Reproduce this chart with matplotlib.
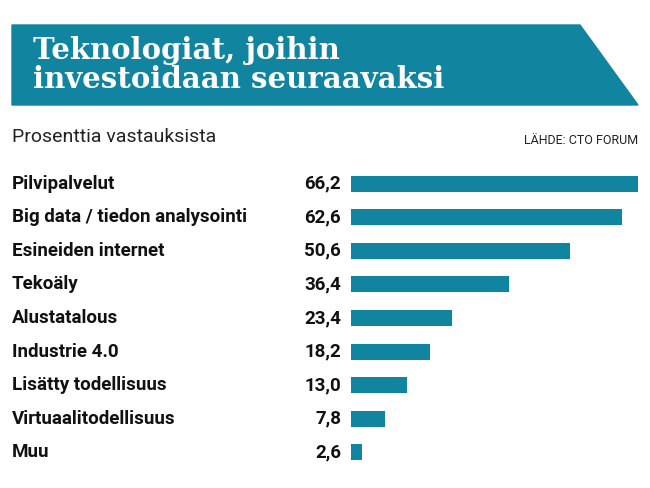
import matplotlib
matplotlib.use("Agg")
import matplotlib.pyplot as plt
from matplotlib.patches import Polygon
from matplotlib.transforms import blended_transform_factory

categories = ["Pilvipalvelut", "Big data / tiedon analysointi", "Esineiden internet", "Tekoäly",
              "Alustatalous", "Industrie 4.0", "Lisätty todellisuus", "Virtuaalitodellisuus", "Muu"]
values = [66.2, 62.6, 50.6, 36.4, 23.4, 18.2, 13.0, 7.8, 2.6]
value_labels = ["66,2", "62,6", "50,6", "36,4", "23,4", "18,2", "13,0", "7,8", "2,6"]

teal = "#11849f"
W, H = 650, 488
fig = plt.figure(figsize=(6.5, 4.88), dpi=100)

# banner
ban = Polygon([(12/W, 1-25/H), (580/W, 1-25/H), (638/W, 1-105/H), (12/W, 1-105/H)],
              closed=True, transform=fig.transFigure, color=teal)
fig.patches.append(ban)
fig.text(33/W, 1-65/H, "Teknologiat, joihin\ninvestoidaan seuraavaksi", color="white",
         fontsize=21, fontweight="bold", family="DejaVu Serif", va="center", ha="left",
         linespacing=1.0)
fig.text(12/W, 1-137/H, "Prosenttia vastauksista", fontsize=14, family="Roboto",
         color="#222222", va="center")
fig.text(638/W, 1-141/H, "LÄHDE: CTO FORUM", fontsize=9, family="Roboto",
         color="#222222", va="center", ha="right")

ax = fig.add_axes([351/W, 1-469/H, 287/W, (469-167)/H])
y = list(range(len(values)))
ax.barh(y, values, height=0.48, color=teal)
ax.set_xlim(0, 66.2)
ax.set_ylim(len(values)-0.5, -0.5)
ax.axis("off")
tr = blended_transform_factory(fig.transFigure, ax.transData)
for i, (c, v) in enumerate(zip(categories, value_labels)):
    ax.text(12/W, i, c, transform=tr, fontsize=13.5, fontweight="bold", family="Roboto",
            color="#111111", va="center", ha="left")
    ax.text(341/W, i, v, transform=tr, fontsize=13.5, fontweight="bold", family="Roboto",
            color="#111111", va="center", ha="right")

fig.savefig("out.png", dpi=100, facecolor="white")
